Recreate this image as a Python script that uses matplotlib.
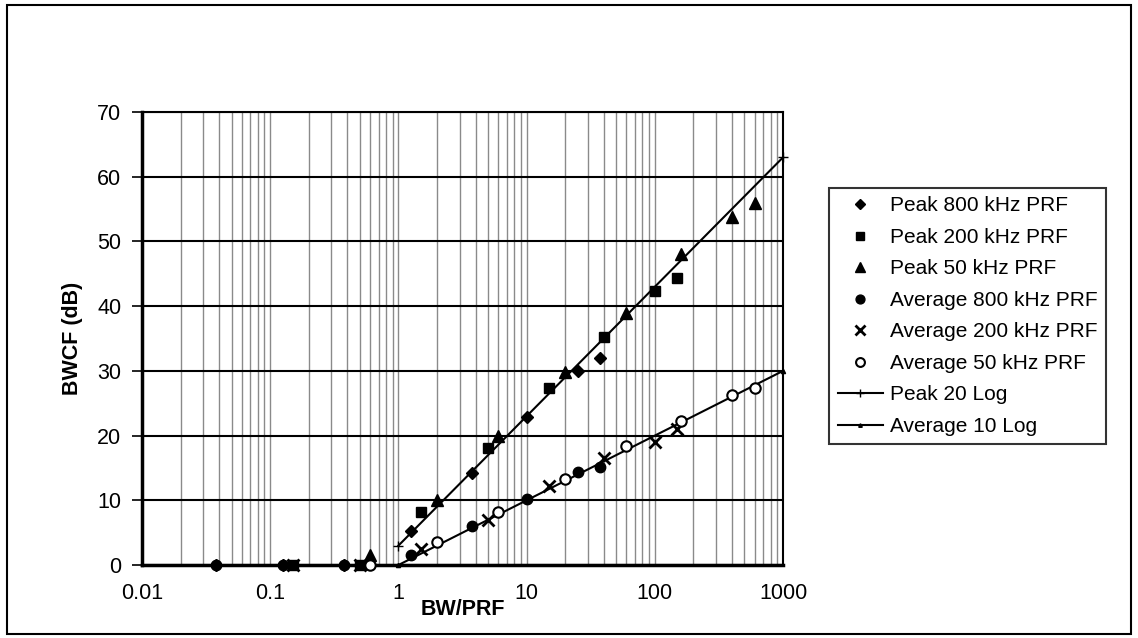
import numpy as np
import matplotlib.pyplot as plt
from matplotlib.patches import Rectangle

plt.rcParams['font.family'] = ['Liberation Sans', 'DejaVu Sans']

# BW/PRF values for each PRF
x_800 = [0.0375, 0.125, 0.375, 1.25, 3.75, 10, 25, 37.5]
x_200 = [0.15, 0.5, 1.5, 5, 15, 40, 100, 150]
x_50 = [0.6, 2, 6, 20, 60, 160, 400, 600]

peak_800 = [0, 0, 0, 5.3, 14.2, 22.9, 30.0, 32.0]
peak_200 = [0, 0, 8.2, 18.1, 27.3, 35.2, 42.3, 44.3]
peak_50 = [1.5, 10.0, 20.0, 29.9, 39.0, 48.0, 53.8, 55.9]

avg_800 = [0, 0, 0, 1.5, 6.0, 10.2, 14.4, 15.2]
avg_200 = [0, 0, 2.5, 7.0, 12.2, 16.5, 19.0, 21.0]
avg_50 = [0, 3.5, 8.2, 13.3, 18.4, 22.3, 26.3, 27.3]

# reference curves
line_x = [1, 1000]
peak_line = [3, 63]
avg_line = [0, 30]

fig = plt.figure(figsize=(11.38, 6.38), dpi=100)
ax = fig.add_axes([0.1248, 0.1144, 0.5633, 0.71])

ax.set_xscale('log')
ax.set_xlim(0.01, 1000)
ax.set_ylim(0, 70)

# gridlines
ax.set_yticks(range(0, 71, 10))
ax.grid(True, axis='y', which='major', color='black', lw=1.5)
ax.grid(True, axis='x', which='both', color='#8a8a8a', lw=1.0)
ax.set_axisbelow(True)

ms = 8
kw = dict(ls='none', color='black', clip_on=False, zorder=3)
ax.plot(x_800, peak_800, marker='D', ms=ms - 1.5, label='Peak 800 kHz PRF', **kw)
ax.plot(x_200, peak_200, marker='s', ms=ms - 0.5, label='Peak 200 kHz PRF', **kw)
ax.plot(x_50, peak_50, marker='^', ms=ms + 1, label='Peak 50 kHz PRF', **kw)
ax.plot(x_800, avg_800, marker='o', ms=ms - 0.5, label='Average 800 kHz PRF', **kw)
ax.plot(x_200, avg_200, marker='x', ms=ms, mew=2, label='Average 200 kHz PRF', **kw)
ax.plot(x_50, avg_50, marker='o', ms=ms - 0.5, mfc='white', mew=1.5,
        label='Average 50 kHz PRF', **kw)
ax.plot(line_x, peak_line, color='black', lw=1.5, marker='+', ms=7, label='Peak 20 Log',
        clip_on=False, zorder=2)
ax.plot(line_x, avg_line, color='black', lw=1.5, marker='^', ms=3, label='Average 10 Log',
        clip_on=False, zorder=2)

for s in ax.spines.values():
    s.set_linewidth(1.5)
ax.spines['left'].set_linewidth(2.5)
ax.spines['bottom'].set_linewidth(2.5)

ax.set_xticks([0.01, 0.1, 1, 10, 100, 1000])
ax.set_xticklabels(['0.01', '0.1', '1', '10', '100', '1000'])
ax.tick_params(axis='x', which='both', length=0, pad=13, labelsize=15.5)
ax.tick_params(axis='y', length=7, width=1.2, pad=8, labelsize=15.5)

ax.set_xlabel('BW/PRF', fontsize=15.5, fontweight='bold', labelpad=-4)
ax.set_ylabel('BWCF (dB)', fontsize=15.5, fontweight='bold', labelpad=10)

leg = ax.legend(loc='upper left', bbox_to_anchor=(1.072, 0.832), fontsize=15,
                frameon=True, fancybox=False, edgecolor='black', handlelength=2.2,
                handletextpad=0.3, labelspacing=0.6, borderpad=0.4, borderaxespad=0,
                markerscale=0.85)
leg.get_frame().set_linewidth(1.5)

# border around the whole picture
fig.patches.append(Rectangle((0.006, 0.006), 0.988, 0.986, transform=fig.transFigure,
                             fill=False, edgecolor='black', lw=1.5))

fig.savefig('out.png', dpi=100)
